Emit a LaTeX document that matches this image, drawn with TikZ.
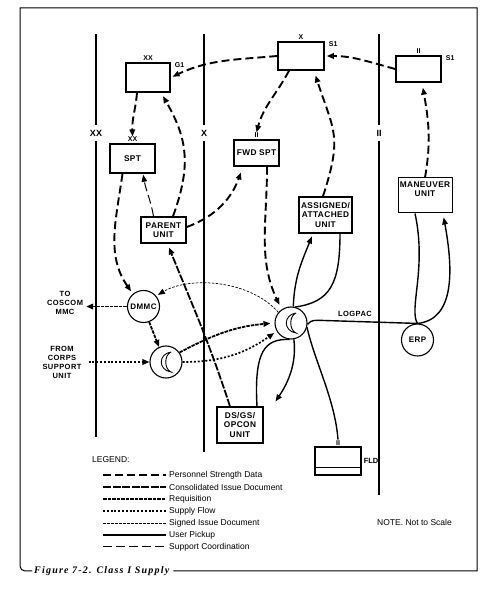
\documentclass[tikz,border=0pt]{standalone}
\usepackage{fontspec}
\setmainfont{Liberation Sans}
\newfontfamily\capfont{Liberation Serif}
\usetikzlibrary{arrows.meta}

\begin{document}
\begin{tikzpicture}[x=1pt, y=1pt,
  unitbox/.style={draw, line width=1.5pt, inner sep=1pt, align=center,
    font=\fontsize{8.3}{9.5}\selectfont\bfseries\addfontfeature{LetterSpace=5}},
  ring/.style={draw, circle, line width=1.1pt, inner sep=0pt, minimum size=32pt,
    font=\fontsize{8}{9.5}\selectfont\bfseries\addfontfeature{LetterSpace=5}},
  echelon/.style={anchor=south, inner sep=0.5pt, yshift=0.6pt, font=\fontsize{7}{7}\selectfont\bfseries},
  sidetag/.style={inner sep=0pt, font=\fontsize{7}{7}\selectfont\bfseries},
  sidetext/.style={align=center, inner sep=0pt,
    font=\fontsize{7.5}{9}\selectfont\bfseries\addfontfeature{LetterSpace=6}},
  legendtext/.style={anchor=west, inner sep=0pt, font=\fontsize{8.5}{10}\selectfont},
  boundary/.style={line width=2.6pt},
  arrowed/.style={-{Triangle[length=7pt,width=5.5pt]}},
  psd/.style={line width=1.9pt, dash pattern=on 8pt off 4pt},
  cid/.style={line width=1.8pt, dash pattern=on 8pt off 1.5pt},
  req/.style={line width=1.8pt, dash pattern=on 3.5pt off 1pt},
  supply/.style={line width=1.7pt, dash pattern=on 2pt off 1.8pt},
  signed/.style={line width=0.7pt, dash pattern=on 2.5pt off 1.5pt},
  pickup/.style={line width=1.4pt},
  suppcoord/.style={line width=1pt, dash pattern=on 9pt off 4pt}]
\useasboundingbox (0,0) rectangle (492,592);

% echelon boundaries
\foreach \x/\lab/\ybot in {96/XX/155, 204/X/140, 379/II/97} {
  \draw[boundary] (\x,558) -- (\x,467);
  \draw[boundary] (\x,451) -- (\x,\ybot);
  \node[inner sep=0pt, font=\fontsize{9}{9}\selectfont\bfseries] (lab\lab) at (\x,459) {\lab};
}

% units
\node[unitbox, minimum width=44pt, minimum height=29pt] (div) at (148,514.5) {};
\node[unitbox, minimum width=45pt, minimum height=29pt] (spt) at (132.5,433.5) {SPT};
\node[unitbox, minimum width=46pt, minimum height=28pt] (bde) at (301,536) {};
\node[unitbox, minimum width=45pt, minimum height=26pt] (bn) at (418.5,523) {};
\node[unitbox, minimum width=45pt, minimum height=26pt] (fwdspt) at (256.5,439) {FWD SPT};
\node[unitbox, minimum width=45pt, minimum height=26pt] (parent) at (163.5,362) {PARENT\\UNIT};
\node[unitbox, minimum width=53pt, minimum height=36pt] (assigned) at (325.5,377) {ASSIGNED/\\ATTACHED\\UNIT};
\node[unitbox, line width=1pt, minimum width=54pt, minimum height=35pt] (maneuver) at (425,396.5) {};
\node[unitbox, draw=none, anchor=north] (maneuvertxt) at ([yshift=-2.5]maneuver.north) {MANEUVER\\UNIT};
\node[unitbox, line width=1.1pt, minimum width=46pt, minimum height=36pt] (dsgs) at (240,167) {DS/GS/\\OPCON\\UNIT};
\node[unitbox, line width=1.1pt, minimum width=46pt, minimum height=28pt] (fld) at (338,131) {};
\draw[line width=1.1pt] ([yshift=8]fld.south west) -- ([yshift=8]fld.south east);

\node[echelon] (divech) at (div.north) {XX};
\node[echelon] (sptech) at (spt.north) {XX};
\node[echelon] (bdeech) at (bde.north) {X};
\node[echelon] (bnech) at (bn.north) {II};
\node[echelon] (fwdech) at (fwdspt.north) {II};
\node[echelon] (fldech) at (fld.north) {II};
\node[sidetag, anchor=north west] (g1) at ([xshift=4]div.north east) {G1};
\node[sidetag, anchor=north west] (bdes1) at ([xshift=4]bde.north east) {S1};
\node[sidetag, anchor=north west] (bns1) at ([xshift=4]bn.north east) {S1};
\node[sidetag, anchor=west, font=\fontsize{7.5}{7.5}\selectfont\bfseries] (fldtag) at ([xshift=2]fld.east) {FLD};

% supply points
\node[ring] (dmmc) at (143.5,285.5) {DMMC};
\node[ring] (dsa) at (166,230) {};
\node[ring] (bsa) at (291,269) {};
\node[ring] (erp) at (417.5,252) {ERP};
\foreach \c in {dsa, bsa}
  \draw[line width=0.9pt] ([shift={(5,10)}]\c.center)
    .. controls ([shift={(-8,8)}]\c.center) and ([shift={(-8,-8)}]\c.center) .. ([shift={(5,-10)}]\c.center)
    .. controls ([shift={(-2,-7)}]\c.center) and ([shift={(-2,7)}]\c.center) .. ([shift={(5,10)}]\c.center);
\coordinate (dsgsret) at ([xshift=12,yshift=5]dsgs.north east);

\node[sidetext] (coscom) at (65,289) {TO\\COSCOM\\MMC};
\node[sidetext] (corps) at (62,230) {FROM\\CORPS\\SUPPORT\\UNIT};
\node[sidetext] (logpac) at (355,278) {LOGPAC};

% personnel strength data
\draw[psd, arrowed, shorten >=2pt] (bde.west) to[out=185, in=25] (div.east);
\draw[psd, arrowed, shorten >=2pt] (bn.west) to[out=165, in=0] (bde.east);
\draw[psd, arrowed] ([xshift=-11]div.south) to[out=265, in=92] (sptech.north);
\draw[psd, arrowed, shorten >=4pt] ([xshift=9.5]parent.north) to[out=70, in=-60, looseness=1.1] ([xshift=13]div.south);
\draw[psd, arrowed, shorten >=3pt] ([xshift=-10]spt.south) to[out=262, in=125] (dmmc.130);
\draw[psd, arrowed, shorten >=6pt] ([yshift=3]parent.east) to[out=20, in=250] ([xshift=-13.5]fwdspt.south);
\draw[psd, arrowed] ([xshift=-12]bde.south) to[out=242, in=75] (fwdech.north);
\draw[psd, arrowed, shorten >=5pt] ([xshift=-2.5]assigned.north) to[out=72, in=-72, looseness=1.3] ([xshift=13]bde.south);
\draw[psd, arrowed, shorten >=5pt] ([xshift=10.5]fwdspt.south) to[out=-90, in=115] (bsa.125);
\draw[psd, arrowed, shorten >=5pt] (maneuver.north) to[out=80, in=-80] ([xshift=3.5]bn.south);
\draw[cid, arrowed, shorten >=4pt] ([xshift=-10]dsgs.north) to[out=108, in=-68] ([xshift=4]parent.south);
\draw[suppcoord, arrowed, shorten >=1pt] ([xshift=-10]parent.north) to[out=100, in=-80] ([xshift=10.5]spt.south);

% requisition, supply flow, signed issue
\draw[req, arrowed] (dmmc.west) -- ([xshift=3]dmmc.west -| coscom.east);
\draw[req, arrowed] (dmmc.-70) -- (dsa.115);
\draw[supply, arrowed] ([xshift=7]corps.east) -- (dsa.west);
\draw[req, arrowed, shorten >=4pt] (dsa.35) to[out=28, in=185] (bsa.west);
\draw[supply, arrowed, shorten >=3pt] (dsa.east) to[out=0, in=215] (bsa.210);
\draw[signed, arrowed, shorten >=2pt] (bsa.140) .. controls (250,312) and (190,316) .. (dmmc.40);

% user pickup
\draw[pickup, arrowed, shorten >=3pt] (bsa.82) to[out=88, in=-112] ([xshift=-12.5]assigned.south);
\draw[pickup] ([xshift=14.5]assigned.south) .. controls +(0,-50) and +(35,5) .. (bsa.75);
\draw[pickup] ([xshift=17]dsgs.north) .. controls +(-3,55) and +(-25,1) .. (bsa.-95);
\draw[pickup, arrowed] (bsa.-80) .. controls +(3,-25) and +(12,18) .. (dsgsret);
\draw[pickup] (bsa.-15) .. controls +(8,-35) and +(-3,40) .. (fldech.north);
\draw[pickup] (bsa.-5) .. controls +(4,5) and +(-8,0) .. ++(15,4) -- (erp.north);
\draw[pickup] ([xshift=-10]maneuver.south) .. controls +(12,-55) and +(-9,14) .. (erp.north);
\draw[pickup, arrowed, shorten >=4pt] (erp.north) .. controls +(38,4) and +(10,-55) .. ([xshift=18]maneuver.south);

% legend
\node[legendtext] (legend) at (92,132) {LEGEND:};
\foreach \sty/\txt [count=\i] in {psd/Personnel Strength Data, cid/Consolidated Issue Document,
    req/Requisition, supply/Supply Flow, signed/Signed Issue Document, pickup/User Pickup,
    suppcoord/Support Coordination} {
  \node[legendtext] (key\i) at (169,129-12*\i) {\txt};
  \draw[\sty] ([xshift=-66]key\i.west) -- ([xshift=-3]key\i.west);
}
\node[legendtext] (note) at (377,70) {NOTE. Not to Scale};

% frame and caption
\node[anchor=west, inner sep=0pt,
  font=\capfont\fontsize{10}{12}\selectfont\bfseries\itshape\addfontfeature{LetterSpace=12}] (caption) at (34,21) {Figure 7-2. Class I Supply};
\draw[line width=1pt] ([xshift=4]caption.east) -- (477,21) -- (477,584) -- (20,584) -- (20,26)
  to[out=-90, in=180] (25,21) -- ([xshift=-2]caption.west);
\end{tikzpicture}
\end{document}
